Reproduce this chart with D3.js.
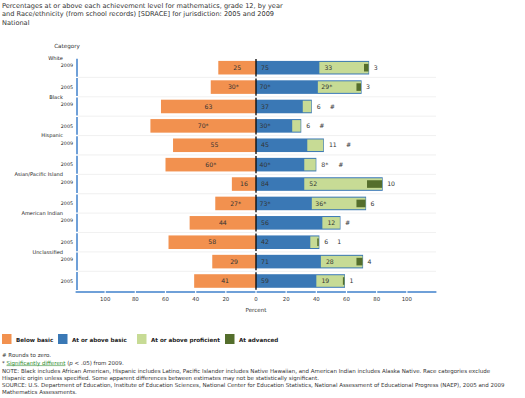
<!DOCTYPE html>
<html><head><meta charset="utf-8">
<script src="https://cdn.jsdelivr.net/npm/d3@7"></script>
<style>
html,body{margin:0;padding:0;background:#fff;}
svg{display:block;font-family:"DejaVu Sans",Verdana,sans-serif;}
</style></head>
<body><svg id="c" width="525" height="398"></svg>
<script>
const titleLines = [
  "Percentages at or above each achievement level for mathematics, grade 12, by year",
  "and Race/ethnicity (from school records) [SDRACE] for jurisdiction: 2005 and 2009",
  "National"
];
const groups = ["White","Black","Hispanic","Asian/Pacific Island","American Indian","Unclassified"];
const years = ["2009","2005"];
const belowBasic = [25,30,63,70,55,60,16,27,44,58,29,41];
const belowBasicLabels = ["25","30*","63","70*","55","60*","16","27*","44","58","29","41"];
const atBasic = [75,70,37,30,45,40,84,73,56,42,71,59];
const atBasicLabels = ["75","70*","37","30*","45","40*","84","73*","56","42","71","59"];
const atProficient = [33,29,6,6,11,8,52,36,12,6,28,19];
const atProficientLabels = ["33","29*","6","6","11","8*","52","36*","12","6","28","19"];
const atAdvanced = [3,3,0,0,0,0,10,6,0,1,4,1];
const atAdvancedLabels = ["3","3","#","#","#","#","10","6","#","1","4","1"];
const xTicks = [-100,-80,-60,-40,-20,0,20,40,60,80,100];
const legendLabels = ["Below basic","At or above basic","At or above proficient","At advanced"];
const colors = ["#F2914F","#3A78B5","#C7DB95","#546E2C"];

const rows = [];
groups.forEach((g,gi)=>years.forEach((y,yi)=>rows.push({g,y,gi,yi,i:gi*2+yi})));

const svg = d3.select("#c");
const x = d3.scaleLinear().domain([-120,120]).range([75,437]);
const y = d3.scaleBand().domain(rows.map(r=>r.i)).range([58,290.7]).paddingInner(0.3).paddingOuter(0.15);
const step = y.step();
const rowTop = i => y(i) - (step - y.bandwidth())/2;

// title
svg.append("g").selectAll("text").data(titleLines).join("text")
  .attr("x",2).attr("y",(d,i)=>7.5+i*8.5).attr("font-size",6.6).attr("fill","#333").text(d=>d);

svg.append("text").attr("x",67).attr("y",48).attr("text-anchor","middle")
  .attr("font-size",5.6).attr("fill","#333").text("Category");

// row separators
svg.append("g").selectAll("line").data(rows.slice(1)).join("line")
  .attr("x1",78).attr("x2",436).attr("y1",d=>rowTop(d.i)).attr("y2",d=>rowTop(d.i))
  .attr("stroke","#ececec").attr("stroke-width",0.8);

// left axis segments
svg.append("g").selectAll("line").data(rows).join("line")
  .attr("x1",77).attr("x2",77).attr("y1",d=>rowTop(d.i)+0.7).attr("y2",d=>rowTop(d.i)+step-0.7)
  .attr("stroke","#6FA0D8").attr("stroke-width",2);

// bottom axis segments
const segs = [[-120,-100]].concat(d3.range(-100,100,20).map(v=>[v,v+20])).concat([[100,120]]);
svg.append("g").selectAll("line").data(segs).join("line")
  .attr("x1",d=>x(d[0])+0.6).attr("x2",d=>x(d[1])-0.6).attr("y1",292).attr("y2",292)
  .attr("stroke","#6FA0D8").attr("stroke-width",2);
svg.append("g").selectAll("text").data(xTicks).join("text")
  .attr("x",d=>x(d)).attr("y",301).attr("text-anchor","middle").attr("font-size",5.4).attr("fill","#333")
  .text(d=>Math.abs(d));
svg.append("text").attr("x",x(0)).attr("y",311.5).attr("text-anchor","middle").attr("font-size",5.6)
  .attr("fill","#333").text("Percent");

// group and year labels
svg.append("g").selectAll("text").data(rows.filter(r=>r.yi===0)).join("text")
  .attr("x",63).attr("y",d=>rowTop(d.i)+1.8).attr("text-anchor","end").attr("font-size",5.1).attr("fill","#222")
  .text(d=>d.g);
svg.append("g").selectAll("text").data(rows).join("text")
  .attr("x",73).attr("y",d=>y(d.i)+y.bandwidth()/2+(d.yi===0?-0.5:1.7)).attr("text-anchor","end")
  .attr("font-size",4.8).attr("fill","#222").text(d=>d.y);

const bh = y.bandwidth();
const bars = svg.append("g");
bars.selectAll(".bb").data(rows).join("rect").attr("class","bb")
  .attr("x",d=>x(-belowBasic[d.i])).attr("width",d=>x(0)-x(-belowBasic[d.i]))
  .attr("y",d=>y(d.i)).attr("height",bh).attr("fill",colors[0]);
bars.selectAll(".ab").data(rows).join("rect").attr("class","ab")
  .attr("x",x(0)).attr("width",d=>x(atBasic[d.i])-x(0))
  .attr("y",d=>y(d.i)).attr("height",bh).attr("fill",colors[1]);
bars.selectAll(".ap").data(rows).join("rect").attr("class","ap")
  .attr("x",d=>x(atBasic[d.i]-atProficient[d.i])).attr("width",d=>x(atProficient[d.i])-x(0)-0.6)
  .attr("y",d=>y(d.i)+1).attr("height",bh-2).attr("fill",colors[2]);
bars.selectAll(".aa").data(rows.filter(r=>atAdvanced[r.i]>0)).join("rect").attr("class","aa")
  .attr("x",d=>x(atBasic[d.i]-atAdvanced[d.i])-0.6).attr("width",d=>Math.max(1.3,x(atAdvanced[d.i])-x(0)))
  .attr("y",d=>y(d.i)+bh*0.22).attr("height",bh*0.56).attr("fill",colors[3]);
svg.append("g").selectAll("line").data(rows).join("line")
  .attr("x1",x(0)).attr("x2",x(0)).attr("y1",d=>rowTop(d.i)+1).attr("y2",d=>rowTop(d.i)+step-1)
  .attr("stroke","#111").attr("stroke-width",1.4);

// labels
const fs = 6.2, lc = "#333";
const cy = d => y(d.i)+bh/2+2.1;
const lab = svg.append("g").attr("font-size",fs).attr("fill",lc);
lab.selectAll(".lb").data(rows).join("text")
  .attr("x",d=>(x(0)+x(-belowBasic[d.i]))/2).attr("y",cy).attr("text-anchor","middle").text(d=>belowBasicLabels[d.i]);
lab.selectAll(".la").data(rows).join("text")
  .attr("x",x(0)+9).attr("y",cy).attr("text-anchor","middle").text(d=>atBasicLabels[d.i]);
const profW = d => x(atProficient[d.i])-x(0);
const profInside = d => profW(d) >= 17;
const profX = d => profInside(d) ? x(atBasic[d.i]-atProficient[d.i])+9 : x(atBasic[d.i])+5;
lab.selectAll(".lp").data(rows).join("text")
  .attr("x",profX).attr("y",cy).attr("text-anchor",d=>profInside(d)?"middle":"start").text(d=>atProficientLabels[d.i]);
const advX = d => profInside(d) ? x(atBasic[d.i])+4.5 : x(atBasic[d.i])+5 + atProficientLabels[d.i].length*4 + 9;
lab.selectAll(".lv").data(rows).join("text")
  .attr("x",advX).attr("y",cy).attr("text-anchor","start").text(d=>atAdvancedLabels[d.i]);

// legend
const lg = svg.append("g");
const lx = [2,58,137,225];
legendLabels.forEach((t,i)=>{
  lg.append("rect").attr("x",lx[i]).attr("y",334).attr("width",9.5).attr("height",10).attr("fill",colors[i]);
  lg.append("text").attr("x",lx[i]+14).attr("y",341.5).attr("font-size",5.6).attr("font-weight","bold")
    .attr("fill","#222").text(t);
});

// footnotes
const fn = svg.append("g").attr("font-size",5.5).attr("fill","#333");
fn.append("text").attr("x",2).attr("y",357).text("# Rounds to zero.");
const t2 = fn.append("text").attr("x",2).attr("y",364.5);
t2.append("tspan").text("* ");
t2.append("tspan").attr("fill","#2E8B2E").attr("text-decoration","underline").text("Significantly different");
t2.append("tspan").text(" (");
t2.append("tspan").attr("font-style","italic").text("p");
t2.append("tspan").text(" < .05) from 2009.");
const notes = [
  "NOTE: Black includes African American, Hispanic includes Latino, Pacific Islander includes Native Hawaiian, and American Indian includes Alaska Native. Race categories exclude",
  "Hispanic origin unless specified. Some apparent differences between estimates may not be statistically significant.",
  "SOURCE: U.S. Department of Education, Institute of Education Sciences, National Center for Education Statistics, National Assessment of Educational Progress (NAEP), 2005 and 2009",
  "Mathematics Assessments."
];
fn.selectAll(".n").data(notes).join("text").attr("x",2).attr("y",(d,i)=>372.5+i*7.3).text(d=>d);
</script></body></html>
